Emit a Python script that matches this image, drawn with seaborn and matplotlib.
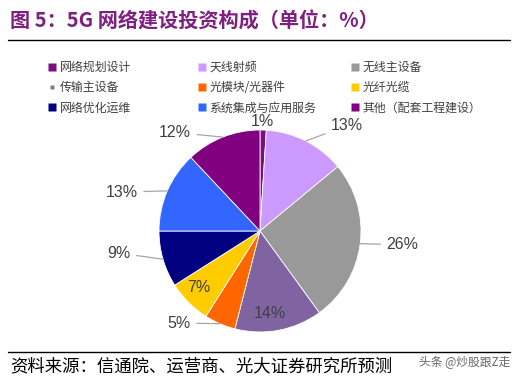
import numpy as np
import seaborn as sns
import matplotlib.pyplot as plt
from matplotlib.lines import Line2D

sns.set_theme(style="white")
plt.rcParams['font.family'] = ['Noto Sans CJK SC', 'DejaVu Sans']

# dados da figura
categorias = ["网络规划设计", "天线射频", "无线主设备", "传输主设备", "光模块/光器件",
              "光纤光缆", "网络优化运维", "系统集成与应用服务", "其他（配套工程建设）"]
valores = [1, 13, 26, 14, 5, 7, 9, 13, 12]
cores = ["#7B0F7B", "#CC99FF", "#999999", "#8064A2", "#FF6600",
         "#FFCC00", "#000080", "#3366FF", "#800080"]

# posicao dos rotulos: (raio, desvio de angulo em graus, dentro?)
pos_rotulos = [(1.08, 0.7, True), (1.26, -7, False), (1.26, 1, False), (0.82, -3.8, True),
               (1.14, -13.5, False), (0.83, -2.4, True), (1.30, -6.5, False),
               (1.27, 5.7, False), (1.19, 13.3, False)]

fig = plt.figure(figsize=(5.25, 3.79), dpi=100)

W, H = 525, 379
cx, cy, R = 260, 231, 101
lim = 1.45
half = lim * R
ax = fig.add_axes([(cx - half) / W, (H - cy - half) / H, 2 * half / W, 2 * half / H])

wedges, _ = ax.pie(valores, colors=cores, startangle=90, counterclock=False,
                   radius=1, wedgeprops=dict(edgecolor="white", linewidth=0.6))
ax.set_xlim(-lim, lim)
ax.set_ylim(-lim, lim)
ax.set_aspect("equal")
ax.axis("off")

fonte_num = dict(fontsize=11.5, color="#404040", family=["Liberation Sans", "DejaVu Sans"])
for w, v, (r, d, dentro) in zip(wedges, valores, pos_rotulos):
    ang = np.deg2rad((w.theta1 + w.theta2) / 2)
    ang_t = ang + np.deg2rad(d)
    tx, ty = r * np.cos(ang_t), r * np.sin(ang_t)
    if dentro:
        ax.text(tx, ty, f"{v}%", ha="center", va="center", **fonte_num)
        continue
    ex, ey = np.cos(ang), np.sin(ang)
    ha = "left" if tx > 0 else "right"
    ax.annotate(f"{v}%", xy=(ex, ey), xytext=(tx, ty), ha=ha, va="center",
                annotation_clip=False, **fonte_num,
                arrowprops=dict(arrowstyle="-", color="#A6A6A6", lw=0.9,
                                shrinkA=2, shrinkB=0))

# legenda: 3 colunas, preenchidas por linha
handles = []
for i, (c, nome) in enumerate(zip(cores, categorias)):
    if i == 3:
        handles.append(Line2D([], [], marker="s", color="none", markerfacecolor="#7F7F7F",
                              markeredgecolor="none", markersize=2.5, label=nome))
    else:
        handles.append(Line2D([], [], marker="s", color="none", markerfacecolor=c,
                              markeredgecolor="none", markersize=6, label=nome))
col_x = [44, 194, 347]
for j in range(3):
    fig.legend(handles=handles[j::3], loc="upper left",
               bbox_to_anchor=(col_x[j] / W, 1 - 56 / H),
               frameon=False, fontsize=8.6, handlelength=0.6, handletextpad=0.3,
               labelspacing=0.62, labelcolor="#404040", borderaxespad=0)

# titulo e fonte
fig.text(10 / W, 1 - 21 / H, "图 5：5G 网络建设投资构成（单位：%）", fontsize=14.5,
         fontweight="bold", color="#7F1F7F", va="center", ha="left")
fig.add_artist(Line2D([8 / W, 510 / W], [1 - 40 / H, 1 - 40 / H], color="black", lw=1))
fig.add_artist(Line2D([8 / W, 510 / W], [1 - 352 / H, 1 - 352 / H], color="black", lw=1))
fig.text(10 / W, 1 - 366 / H, "资料来源：信通院、运营商、光大证券研究所预测", fontsize=12.5,
         color="black", va="center", ha="left")
fig.text(510 / W, 1 - 362 / H, "头条 @炒股跟Z走", fontsize=8.5, color="#666666",
         va="center", ha="right")

plt.savefig("out.png", dpi=100)
